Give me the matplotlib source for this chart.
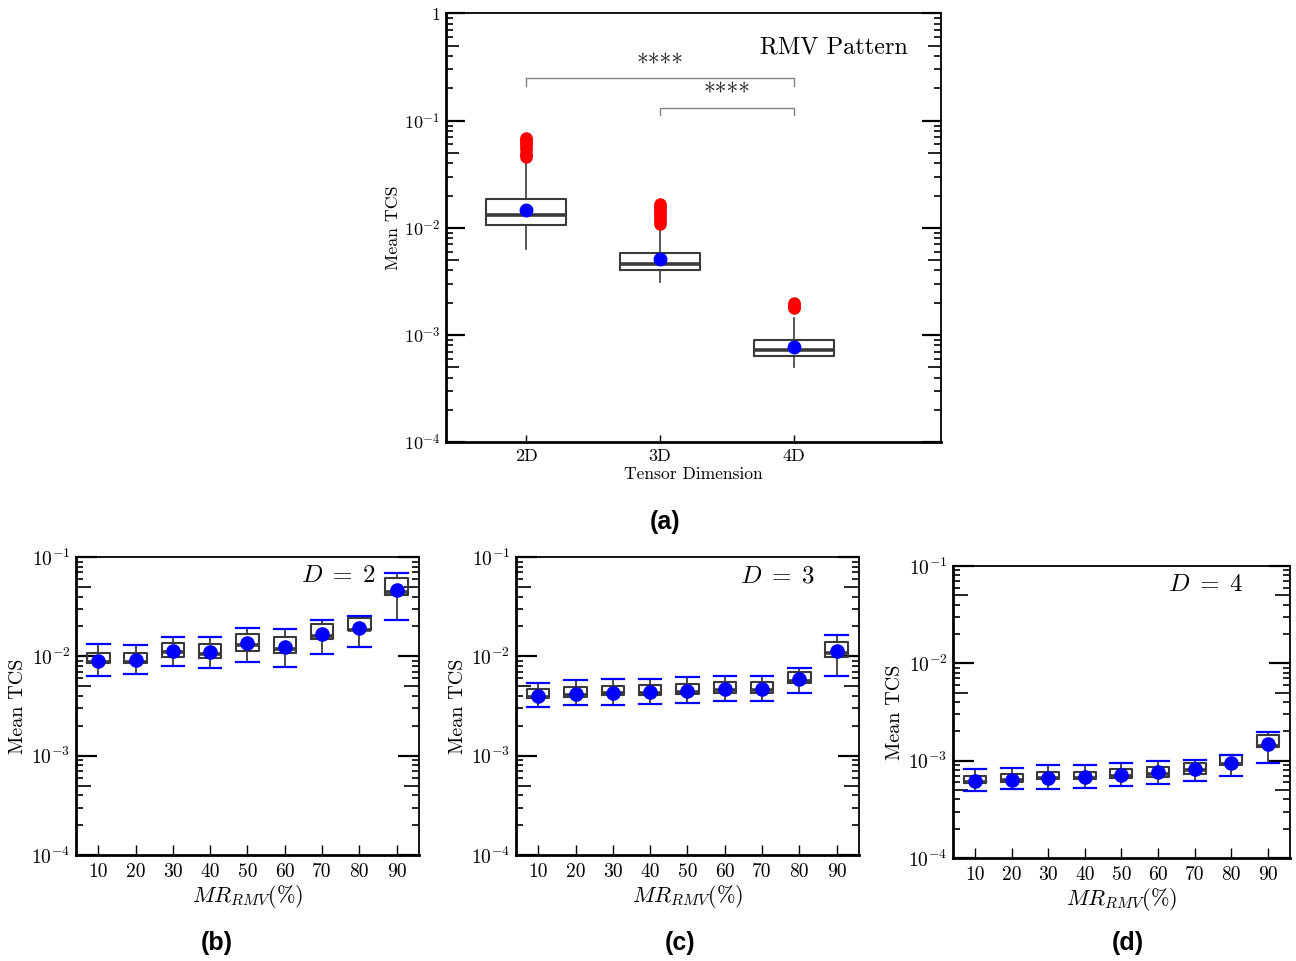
import matplotlib
matplotlib.use("Agg")
import matplotlib.pyplot as plt
import numpy as np
from matplotlib.ticker import LogLocator, FixedLocator, FuncFormatter, NullFormatter, NullLocator

plt.rcParams['font.family'] = ['cmr10', 'DejaVu Serif']
plt.rcParams['mathtext.fontset'] = 'cm'
plt.rcParams['axes.unicode_minus'] = False
plt.rcParams['axes.formatter.use_mathtext'] = True

# ---------------- data: panel (a) ----------------
dims = ['2D', '3D', '4D']
a_q1 = [0.0107, 0.00404, 0.000637]
a_med = [0.0132, 0.00461, 0.000724]
a_q3 = [0.0187, 0.00583, 0.000897]
a_whislo = [0.0064, 0.00313, 0.000503]
a_whishi = [0.044, 0.0105, 0.00144]
a_mean = [0.0147, 0.00513, 0.000772]
a_fliers = [
    [0.046, 0.048, 0.050, 0.054, 0.057, 0.060, 0.062, 0.065, 0.067, 0.069],
    [0.0108, 0.0114, 0.0120, 0.0127, 0.0133, 0.0140, 0.0147, 0.0154, 0.0160, 0.0166],
    [0.00178, 0.00183, 0.00188, 0.00193, 0.00198],
]
sig_pairs = [(0, 2), (1, 2)]
sig_levels = [0.25, 0.132]
sig_text = ['****', '****']

# ---------------- data: panels (b)-(d) ----------------
mr = [10, 20, 30, 40, 50, 60, 70, 80, 90]
b_q1 = [0.00859, 0.00859, 0.00986, 0.00973, 0.01135, 0.01084, 0.01511, 0.01833, 0.04113]
b_med = [0.00880, 0.00880, 0.01109, 0.01067, 0.01312, 0.01198, 0.01604, 0.01859, 0.04446]
b_q3 = [0.01091, 0.01091, 0.01365, 0.01343, 0.01668, 0.01567, 0.02104, 0.02455, 0.06151]
b_lo = [0.00631, 0.00661, 0.00794, 0.00766, 0.00873, 0.00783, 0.01057, 0.01245, 0.02344]
b_hi = [0.01324, 0.01303, 0.01567, 0.01579, 0.01945, 0.01902, 0.02322, 0.02531, 0.06952]
b_mean = [0.0090, 0.0091, 0.01126, 0.0111, 0.01365, 0.01245, 0.01694, 0.01945, 0.04624]

c_q1 = [0.00385, 0.00394, 0.00406, 0.00409, 0.00419, 0.00426, 0.00426, 0.00541, 0.00986]
c_med = [0.00394, 0.00406, 0.00423, 0.00426, 0.00439, 0.00456, 0.00456, 0.00562, 0.01084]
c_q3 = [0.00467, 0.00493, 0.00505, 0.00512, 0.00528, 0.00553, 0.00553, 0.00697, 0.01407]
c_lo = [0.00310, 0.00320, 0.00325, 0.00330, 0.00340, 0.00353, 0.00353, 0.00423, 0.00641]
c_hi = [0.00544, 0.00575, 0.00589, 0.00598, 0.00616, 0.00631, 0.00631, 0.00766, 0.01656]
c_mean = [0.00403, 0.00416, 0.00426, 0.00436, 0.00449, 0.00470, 0.00470, 0.00593, 0.01126]

d_q1 = [0.000590, 0.000609, 0.000640, 0.000640, 0.000661, 0.000677, 0.000731, 0.000899, 0.001368]
d_med = [0.000609, 0.000629, 0.000661, 0.000661, 0.000692, 0.000726, 0.000792, 0.000929, 0.001403]
d_q3 = [0.000703, 0.000726, 0.000773, 0.000773, 0.000816, 0.000864, 0.000936, 0.001132, 0.001849]
d_lo = [0.000489, 0.000508, 0.000516, 0.000528, 0.000550, 0.000572, 0.000615, 0.000703, 0.000936]
d_hi = [0.000824, 0.000843, 0.000899, 0.000899, 0.000942, 0.000982, 0.001014, 0.001151, 0.001986]
d_mean = [0.000619, 0.000634, 0.000661, 0.000671, 0.000714, 0.000756, 0.000811, 0.000951, 0.001482]

panel_titles = [r'$D\;=\;2$', r'$D\;=\;3$', r'$D\;=\;4$']
panel_letters = ['(b)', '(c)', '(d)']

BOXC = '#3a3a3a'


def log_fmt(v, pos):
    e = int(round(np.log10(v)))
    if e == 0:
        return '$1$'
    return '$10^{%d}$' % e


def style_log_axis(ax, lo_exp, hi_exp, major_len, mid_len, minor_len, labelsize):
    ax.set_yscale('log')
    ax.set_ylim(10.0 ** lo_exp, 10.0 ** hi_exp)
    ax.yaxis.set_major_locator(FixedLocator([10.0 ** e for e in range(lo_exp, hi_exp + 1)]))
    ax.yaxis.set_major_formatter(FuncFormatter(log_fmt))
    ax.yaxis.set_minor_locator(LogLocator(base=10, subs=[2, 3, 4, 6, 7, 8, 9]))
    ax.yaxis.set_minor_formatter(NullFormatter())
    ax.tick_params(axis='y', which='major', direction='in', length=major_len, width=1.6,
                   left=True, right=True, labelsize=labelsize, pad=4)
    ax.tick_params(axis='y', which='minor', direction='in', length=minor_len, width=1.2,
                   left=True, right=True)
    fives = [5 * 10.0 ** e for e in range(lo_exp, hi_exp)]
    for side in ['left', 'right']:
        sec = ax.secondary_yaxis(side)
        sec.set_yscale('log')
        sec.yaxis.set_major_locator(FixedLocator(fives))
        sec.yaxis.set_major_formatter(NullFormatter())
        sec.yaxis.set_minor_locator(NullLocator())
        sec.tick_params(axis='y', which='major', direction='in', length=mid_len, width=1.2)
        for s in sec.spines.values():
            s.set_visible(False)
    ax.spines['left'].set_linewidth(2.0)
    ax.spines['bottom'].set_linewidth(2.0)
    ax.spines['top'].set_linewidth(1.3)
    ax.spines['right'].set_linewidth(1.3)


fig = plt.figure(figsize=(12.96, 9.61), dpi=100)

# ---------------- panel (a) ----------------
axa = fig.add_axes([0.344, 0.540, 0.382, 0.446])
pos_a = [1, 2, 3]
stats = []
for i in range(3):
    stats.append(dict(med=a_med[i], q1=a_q1[i], q3=a_q3[i], whislo=a_whislo[i],
                      whishi=a_whishi[i], fliers=a_fliers[i], mean=a_mean[i]))
axa.bxp(stats, positions=pos_a, widths=0.6, showmeans=True, showcaps=False,
        boxprops=dict(color=BOXC, linewidth=1.5),
        medianprops=dict(color=BOXC, linewidth=2.6),
        whiskerprops=dict(color=BOXC, linewidth=1.2),
        flierprops=dict(marker='o', markerfacecolor='red', markeredgecolor='red', markersize=8),
        meanprops=dict(marker='o', markerfacecolor='blue', markeredgecolor='blue', markersize=9))
style_log_axis(axa, -4, 0, 14, 9.5, 4.7, 13)
axa.set_xlim(0.4, 4.1)
axa.set_xticks(pos_a)
axa.set_xticklabels(dims)
axa.tick_params(axis='x', direction='in', length=5, width=1.0, labelsize=13, pad=5)
axa.set_xlabel('Tensor Dimension', fontsize=12.6, labelpad=2)
axa.set_ylabel('Mean TCS', fontsize=12.8, labelpad=2)
axa.text(0.933, 0.92, 'RMV Pattern', transform=axa.transAxes, ha='right', va='center', fontsize=17.5)

for (i, j), lev, txt in zip(sig_pairs, sig_levels, sig_text):
    x1, x2 = pos_a[i], pos_a[j]
    axa.plot([x1, x1, x2, x2], [lev * 0.85, lev, lev, lev * 0.85], color='#808080', lw=1.0)
    axa.text((x1 + x2) / 2, lev * 1.04, txt, ha='center', va='bottom', fontsize=17, color='#222222')

fig.text(0.513, 0.457, '(a)', ha='center', va='center', fontsize=18, fontweight='bold',
         family='Liberation Sans')

# ---------------- panels (b)-(d) ----------------
rects = [[0.0586, 0.1103, 0.2647, 0.3101],
         [0.3981, 0.1103, 0.2647, 0.3101],
         [0.7353, 0.1072, 0.2600, 0.3039]]
series = [(b_q1, b_med, b_q3, b_lo, b_hi, b_mean),
          (c_q1, c_med, c_q3, c_lo, c_hi, c_mean),
          (d_q1, d_med, d_q3, d_lo, d_hi, d_mean)]
letter_x = [0.167, 0.525, 0.870]
title_x = [0.872, 0.869, 0.860]

for k in range(3):
    ax = fig.add_axes(rects[k])
    q1, med, q3, lo, hi, mn = series[k]
    st = [dict(med=med[i], q1=q1[i], q3=q3[i], whislo=lo[i], whishi=hi[i], fliers=[], mean=mn[i])
          for i in range(len(mr))]
    ax.bxp(st, positions=mr, widths=6, showmeans=True, showcaps=True, showfliers=False,
           boxprops=dict(color=BOXC, linewidth=1.5),
           medianprops=dict(color=BOXC, linewidth=2.6),
           whiskerprops=dict(color=BOXC, linewidth=1.3),
           capprops=dict(color='blue', linewidth=1.6),
           capwidths=6,
           meanprops=dict(marker='o', markerfacecolor='blue', markeredgecolor='blue', markersize=9.5))
    style_log_axis(ax, -4, -1, 15, 10.5, 5, 14)
    ax.set_xlim(4, 96)
    ax.set_xticks(mr)
    ax.set_xticklabels([str(v) for v in mr])
    ax.tick_params(axis='x', direction='in', length=7, width=1.0, labelsize=14, pad=6)
    ax.set_xlabel(r'$MR_{RMV}(\%)$', fontsize=16, labelpad=1)
    ax.set_ylabel('Mean TCS', fontsize=14.5, labelpad=3)
    ax.text(title_x[k], 0.935, panel_titles[k], transform=ax.transAxes, ha='right', va='center',
            fontsize=18)
    fig.text(letter_x[k], 0.019, panel_letters[k], ha='center', va='center', fontsize=18,
             fontweight='bold', family='Liberation Sans')

fig.savefig('out.png', dpi=100)
